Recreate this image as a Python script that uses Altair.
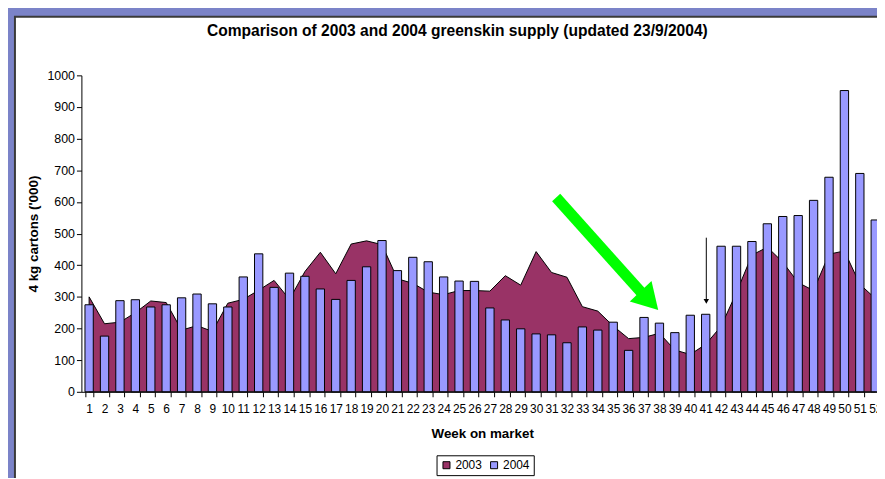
import altair as alt
import pandas as pd

weeks = list(range(1, 53))
supply_2003 = [300, 215, 220, 250, 287, 282, 195, 209, 191, 280,
               292, 321, 352, 292, 380, 441, 373, 467, 477, 465,
               357, 343, 315, 307, 320, 320, 318, 367, 337, 443,
               377, 362, 269, 255, 208, 168, 172, 185, 132, 118,
               150, 207, 314, 432, 457, 410, 345, 320, 435, 445,
               340, 295]
supply_2004 = [275, 176, 288, 291, 268, 275, 297, 309, 278, 268,
               363, 436, 330, 375, 365, 325, 292, 352, 395, 478,
               383, 425, 411, 363, 350, 349, 265, 227, 199, 183,
               180, 155, 205, 195, 220, 131, 235, 217, 187, 242,
               245, 460, 460, 475, 531, 554, 557, 605, 678, 952,
               690, 543]
years = ["2003", "2004"]
colors = ["#993366", "#9999FF"]

# annotation arrows (in data units: week position, cartons)
green_shaft_week = [31.3, 36.95]
green_shaft_value = [614, 307]
green_head_week = [37.35]
green_head_value = [288]
black_shaft_week = [41.04, 41.04]
black_shaft_value = [487, 290]
black_head_week = [41.04]
black_head_value = [286]

FONT = "Liberation Sans"
W = 802
H = 319
XRANGE = [0, 808]

df03 = pd.DataFrame({"week": weeks, "value": supply_2003, "year": years[0]})
df04 = pd.DataFrame({"week": weeks, "value": supply_2004, "year": years[1]})

color = alt.Color("year:N", scale=alt.Scale(domain=years, range=colors),
                  legend=alt.Legend(title=None, orient="none", legendX=358, legendY=383,
                                    direction="horizontal", symbolType="square",
                                    strokeColor="black", padding=4, labelFontSize=12,
                                    labelFont=FONT, labelColor="black",
                                    symbolSize=50, symbolStrokeColor="black",
                                    symbolStrokeWidth=1, columnPadding=6, labelOffset=3))

xenc = alt.X("week:O", title="Week on market",
             scale=alt.Scale(range=XRANGE, paddingInner=0.46, paddingOuter=0.23),
             axis=alt.Axis(labelAngle=0, tickBand="extent", labelFontSize=12,
                           titleFontSize=13.5, titleFontWeight="bold", labelColor="black",
                           titleColor="black", tickColor="black", domainColor="black",
                           tickSize=5, labelPadding=7, titlePadding=12, grid=False,
                           labelOverlap=False, labelFlush=False, zindex=1))
yenc = alt.Y("value:Q", scale=alt.Scale(domain=[0, 1000], nice=False),
             axis=alt.Axis(values=list(range(0, 1001, 100)), format="d", grid=False,
                           title="4 kg cartons ('000)", labelFontSize=12.5,
                           titleFontSize=13.5, titleFontWeight="bold", labelColor="black",
                           titleColor="black", tickColor="black", domainColor="black",
                           tickSize=5, labelPadding=2, titlePadding=6, zindex=1))

area = alt.Chart(df03).mark_area(stroke="black", strokeWidth=1, opacity=1).encode(
    x=xenc, y=yenc, color=color)
bars = alt.Chart(df04).mark_bar(stroke="black", strokeWidth=1).encode(
    x=xenc, y=yenc, color=color)
main = alt.layer(area, bars)

qx = lambda f: alt.X(f, scale=alt.Scale(domain=[0.5, 52.5], range=XRANGE), axis=None)
qy = lambda f: alt.Y(f, scale=alt.Scale(domain=[0, 1000]), axis=None)

g_shaft = alt.Chart(pd.DataFrame({"w": green_shaft_week, "v": green_shaft_value})).mark_line(
    color="#00FF00", strokeWidth=11, strokeCap="butt").encode(x=qx("w:Q"), y=qy("v:Q"))
g_head = alt.Chart(pd.DataFrame({"w": green_head_week, "v": green_head_value})).mark_point(
    shape="triangle-up", size=900, filled=True, color="#00FF00", opacity=1, angle=137).encode(
    x=qx("w:Q"), y=qy("v:Q"))
b_shaft = alt.Chart(pd.DataFrame({"w": black_shaft_week, "v": black_shaft_value})).mark_line(
    color="black", strokeWidth=1).encode(x=qx("w:Q"), y=qy("v:Q"))
b_head = alt.Chart(pd.DataFrame({"w": black_head_week, "v": black_head_value})).mark_point(
    shape="triangle-down", size=30, filled=True, color="black", opacity=1).encode(
    x=qx("w:Q"), y=qy("v:Q"))

bg = alt.Chart(pd.DataFrame({"k": [0]})).mark_rect(
    fill="white", stroke="#3a3a3a", strokeWidth=2).encode(
    x=alt.value(-67), x2=alt.value(900), y=alt.value(-59), y2=alt.value(500))

chart = alt.layer(bg, main, g_shaft, g_head, b_shaft, b_head).resolve_scale(
    x="independent", y="independent"
).properties(
    width=W, height=H,
    title=alt.TitleParams("Comparison of 2003 and 2004 greenskin supply (updated 23/9/2004)",
                          fontSize=15.7, fontWeight="bold", font=FONT, color="black",
                          anchor="middle", frame="group", dx=-22, offset=0, dy=24),
    autosize=alt.AutoSizeParams(type="none"),
    padding={"left": 74, "top": 66, "right": 0, "bottom": 85},
    background="#7b83c8",
).configure(font=FONT).configure_view(stroke=None)

chart.save("out.html", embed_options={"renderer": "svg", "actions": False})
